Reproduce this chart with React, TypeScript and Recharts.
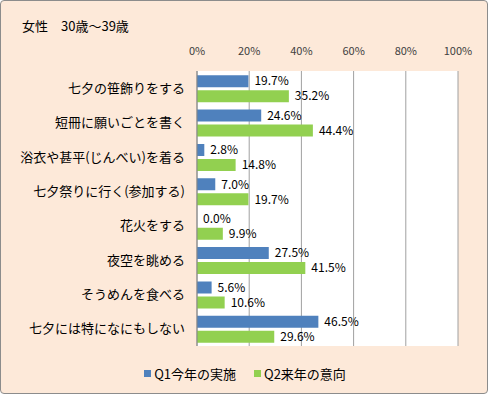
import { BarChart, Bar, XAxis, YAxis, CartesianGrid, LabelList } from 'recharts'

const categories = [
  '七夕の笹飾りをする',
  '短冊に願いごとを書く',
  '浴衣や甚平(じんべい)を着る',
  '七夕祭りに行く(参加する)',
  '花火をする',
  '夜空を眺める',
  'そうめんを食べる',
  '七夕には特になにもしない',
]
const q1Values = [19.7, 24.6, 2.8, 7.0, 0.0, 27.5, 5.6, 46.5]
const q2Values = [35.2, 44.4, 14.8, 19.7, 9.9, 41.5, 10.6, 29.6]
const xTicks = [0, 20, 40, 60, 80, 100]
const seriesNames = ['Q1今年の実施', 'Q2来年の意向']

const BLUE = '#4F81BD'
const GREEN = '#92D050'
const FONT = '"Noto Sans CJK JP", "Noto Sans", sans-serif'

const data = categories.map((name, i) => ({ name, q1: q1Values[i], q2: q2Values[i] }))

const fmt = (v: number) => `${Number(v).toFixed(1)}%`

export default function App() {
  return (
    <div
      style={{
        position: 'absolute',
        left: 0,
        top: 0,
        width: 488,
        height: 394,
        boxSizing: 'border-box',
        background: '#FDE9D9',
        border: '1px solid #8C8C8C',
        borderRadius: 4,
        fontFamily: FONT,
        overflow: 'hidden',
      }}
    >
      <div style={{ position: 'absolute', left: 21, top: 15, fontSize: 13, color: '#000' }}>
        女性　30歳～39歳
      </div>
      <div style={{ position: 'absolute', left: -1, top: -1 }}>
        <BarChart
          width={488}
          height={394}
          data={data}
          layout="vertical"
          margin={{ top: 41, right: 30, left: 0, bottom: 48 }}
          barCategoryGap="12%"
          barGap={3}
        >
          <CartesianGrid horizontal={false} stroke="#A0A0A0" fill="#fff" />
          <XAxis
            type="number"
            orientation="top"
            domain={[0, 100]}
            ticks={xTicks}
            tickFormatter={(v: number) => `${v}%`}
            tick={{ fontSize: 11, fill: '#404040' }}
            tickLine={false}
            axisLine={false}
            tickMargin={10}
            height={30}
            interval={0}
          />
          <YAxis
            type="category"
            dataKey="name"
            width={197}
            tick={{ fontSize: 13, fill: '#000' }}
            tickLine={false}
            axisLine={{ stroke: '#868686' }}
            tickMargin={6}
            interval={0}
          />
          <Bar dataKey="q1" name={seriesNames[0]} fill={BLUE} minPointSize={0.01} isAnimationActive={false}>
            <LabelList
              dataKey="q1"
              position="right"
              offset={6}
              formatter={fmt}
              style={{ fontSize: 12, fill: '#000' }}
            />
          </Bar>
          <Bar dataKey="q2" name={seriesNames[1]} fill={GREEN} isAnimationActive={false}>
            <LabelList
              dataKey="q2"
              position="right"
              offset={6}
              formatter={fmt}
              style={{ fontSize: 12, fill: '#000' }}
            />
          </Bar>
        </BarChart>
      </div>
      <div
        style={{
          position: 'absolute',
          left: 0,
          width: 488,
          top: 363,
          display: 'flex',
          justifyContent: 'center',
          gap: 18,
          fontSize: 13,
          color: '#000',
        }}
      >
        {seriesNames.map((n, i) => (
          <div key={n} style={{ display: 'flex', alignItems: 'center', gap: 3 }}>
            <span style={{ width: 7, height: 7, background: i === 0 ? BLUE : GREEN }} />
            <span>{n}</span>
          </div>
        ))}
      </div>
    </div>
  )
}
